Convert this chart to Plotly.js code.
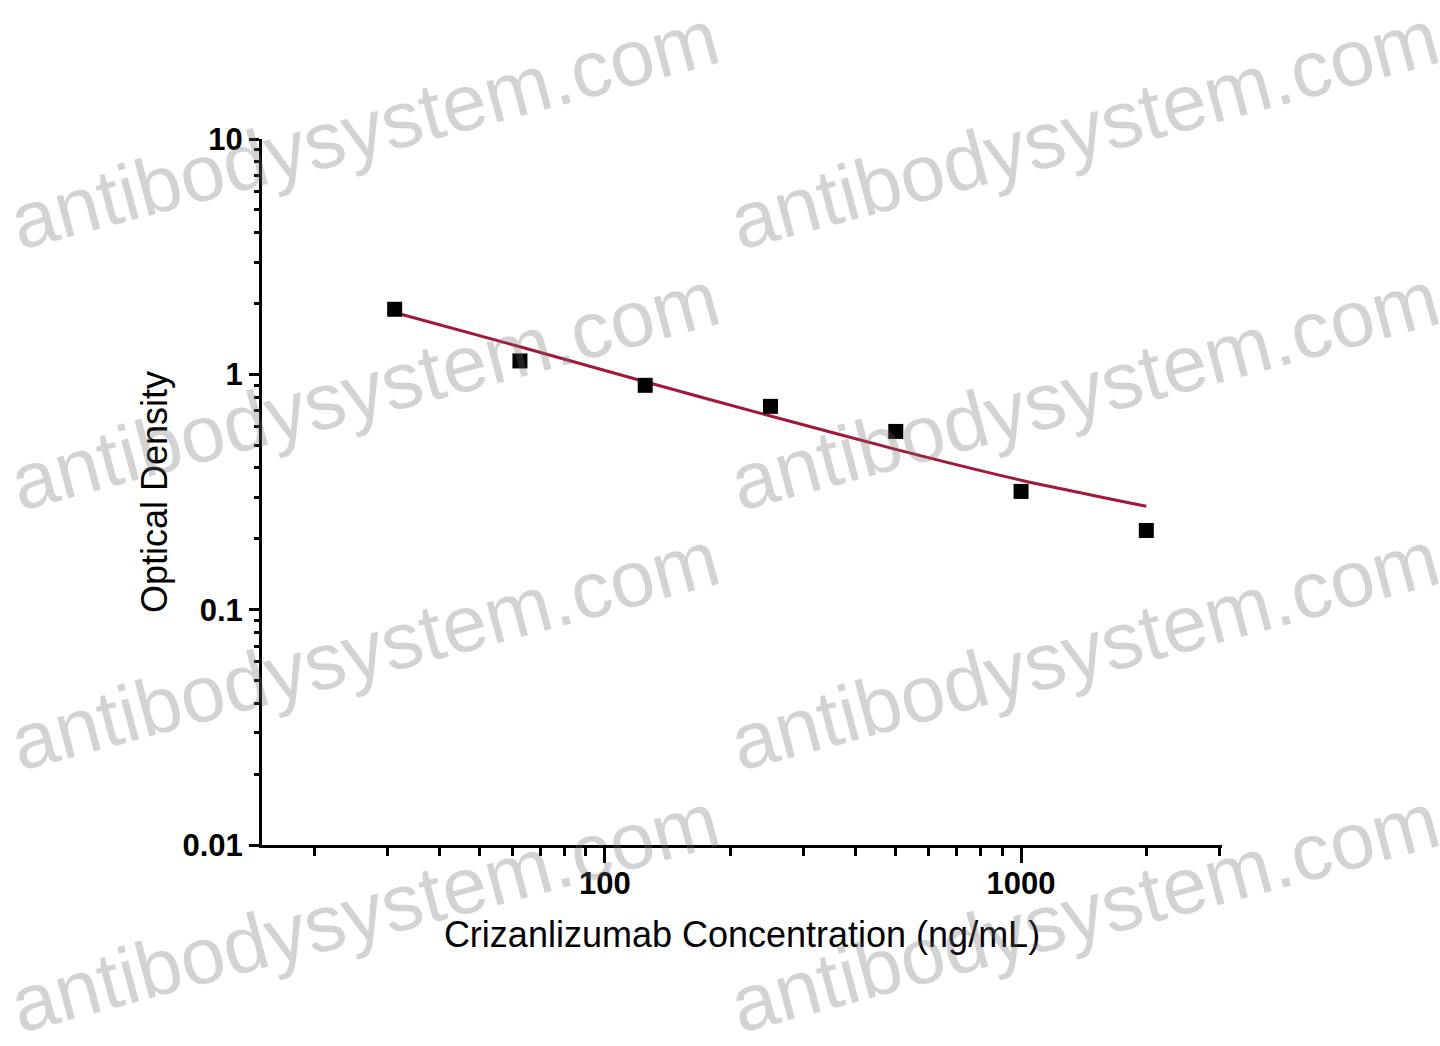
<!DOCTYPE html>
<html>
<head>
<meta charset="utf-8">
<script src="https://cdn.plot.ly/plotly-3.0.1.min.js"></script>
<style>
html,body{margin:0;padding:0;background:#fff;}
#chart{width:1440px;height:1046px;}
</style>
</head>
<body>
<div id="chart"></div>
<script>
// Data
const concentration = [31.25, 62.5, 125, 250, 500, 1000, 2000];
const opticalDensity = [1.89, 1.14, 0.898, 0.731, 0.572, 0.318, 0.217];
// Fitted curve (as drawn in the reference)
const fitConcentration = [31.25, 62.5, 125, 250, 500, 1000, 2000];
const fitDensity = [1.83, 1.31, 0.93, 0.665, 0.48, 0.355, 0.275];
// Tick labels
const xTickVals = [100, 1000];
const xTickText = ['100', '1000'];
const yTickVals = [0.01, 0.1, 1, 10];
const yTickText = ['0.01', '0.1', '1', '10'];
const watermarkText = 'antibodysystem.com';

function minorTicks(lo, hi) {
  const out = [];
  for (let e = lo; e <= hi; e++) for (let m = 2; m <= 9; m++) out.push(m * Math.pow(10, e));
  return out;
}

const W = 1440, H = 1046;
const M = {l: 262, r: 218, t: 139, b: 201};
const pw = W - M.l - M.r, ph = H - M.t - M.b;
function px2paper(x, y) { return {x: (x - M.l) / pw, y: (H - M.b - y) / ph}; }

const wmCenters = [[364,130],[1084,130],[364,390],[1084,390],[364,650],[1084,650],[364,912],[1084,912]];
const annotations = wmCenters.map(c => {
  const p = px2paper(c[0], c[1]);
  return {
    text: watermarkText, xref: 'paper', yref: 'paper', x: p.x, y: p.y,
    xanchor: 'center', yanchor: 'middle', showarrow: false, textangle: -15,
    font: {family: 'Liberation Sans, Arial, sans-serif', size: 80, color: 'rgba(110,110,110,0.3)'}
  };
});

const font = 'Liberation Sans, Arial, sans-serif';

const traces = [
  {
    x: fitConcentration, y: fitDensity, type: 'scatter', mode: 'lines',
    line: {color: '#a3183a', width: 3, shape: 'spline', smoothing: 0.6},
    hoverinfo: 'skip', showlegend: false
  },
  {
    x: concentration, y: opticalDensity, type: 'scatter', mode: 'markers',
    marker: {symbol: 'square', size: 15, color: '#000'},
    showlegend: false
  }
];

const layout = {
  width: W, height: H,
  margin: M,
  paper_bgcolor: '#fff', plot_bgcolor: 'rgba(0,0,0,0)',
  showlegend: false,
  xaxis: {
    type: 'log', range: [Math.log10(15), Math.log10(3040)],
    showline: true, linecolor: '#000', linewidth: 3, mirror: false,
    showgrid: false, zeroline: false,
    tickmode: 'array', tickvals: xTickVals, ticktext: xTickText,
    ticks: 'outside', ticklen: 15, tickwidth: 3, tickcolor: '#000',
    ticklabelstandoff: -6,
    tickfont: {family: font, size: 31, color: '#000', weight: 'bold'},
    minor: {tickmode: 'array', tickvals: minorTicks(1, 3), ticks: 'outside', ticklen: 8, tickwidth: 3, tickcolor: '#000', showgrid: false},
    title: {text: 'Crizanlizumab Concentration (ng/mL)', font: {family: font, size: 36, color: '#000'}, standoff: 22}
  },
  yaxis: {
    type: 'log', range: [-2, 1],
    showline: true, linecolor: '#000', linewidth: 3, mirror: false,
    showgrid: false, zeroline: false,
    tickmode: 'array', tickvals: yTickVals, ticktext: yTickText,
    ticks: 'outside', ticklen: 10, tickwidth: 3, tickcolor: '#000',
    tickfont: {family: font, size: 31, color: '#000', weight: 'bold'},
    minor: {tickmode: 'array', tickvals: minorTicks(-2, 0), ticks: 'outside', ticklen: 5, tickwidth: 3, tickcolor: '#000', showgrid: false},
    title: {text: 'Optical Density', font: {family: font, size: 36, color: '#000'}, standoff: 4}
  },
  annotations: annotations
};

Plotly.newPlot('chart', traces, layout, {displayModeBar: false, staticPlot: true});
</script>
</body>
</html>
